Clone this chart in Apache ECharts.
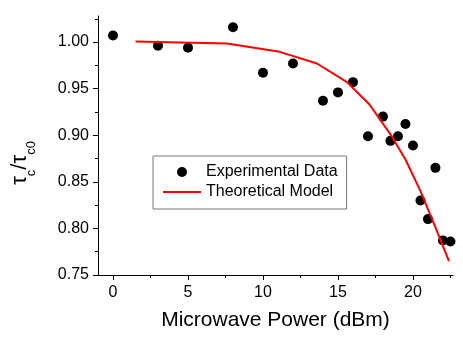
<!DOCTYPE html>
<html lang="en">
<head>
    <meta charset="UTF-8">
    <title>Relaxation time vs microwave power</title>
    <script src="https://cdn.jsdelivr.net/npm/echarts@6/dist/echarts.min.js"></script>
    <style>
        html, body { margin: 0; padding: 0; background: #fff; }
    </style>
</head>
<body>
<div id="main" style="width: 463px;height:343px;"></div>
<script>
    // measured points (dBm, tau_c / tau_c0)
    var powerMeasured = [0, 3, 5, 8, 10, 12, 14, 15, 16, 17, 18, 18.5, 19, 19.5, 20, 20.5, 21, 21.5, 22, 22.5];
    var ratioMeasured = [1.007, 0.996, 0.994, 1.016, 0.967, 0.977, 0.937, 0.946, 0.957, 0.899,
        0.920, 0.894, 0.899, 0.912, 0.889, 0.830, 0.810, 0.865, 0.787, 0.786];

    // model curve
    var powerModel = [1.5, 7.6, 11, 13.6, 15.6, 17.1, 18.5, 19.5, 20.5, 21.5, 22.4];
    var ratioModel = [1.0005, 0.9985, 0.990, 0.977, 0.957, 0.933, 0.901, 0.874, 0.840, 0.801, 0.765];

    var xMajor = [0, 5, 10, 15, 20];
    var xMinor = [2.5, 7.5, 12.5, 17.5, 22.5];
    var yMajor = [0.75, 0.80, 0.85, 0.90, 0.95, 1.00];
    var yMinor = [0.775, 0.825, 0.875, 0.925, 0.975, 1.025];

    var font = '"Liberation Sans", Arial, sans-serif';
    var xRange = [-1, 22.67];
    var yRange = [0.75, 1.028];

    var myChart = echarts.init(document.getElementById('main'));

    function zip(a, b) {
        return a.map(function (v, i) { return [v, b[i]]; });
    }

    var axisLine = {show: true, onZero: false, lineStyle: {color: '#000', width: 1}};
    // minor tick axes: no line, just short ticks
    var noLine = {show: false, onZero: false};

    myChart.setOption({
        animation: false,
        backgroundColor: '#fff',
        grid: {left: 98, right: 10, top: 16, bottom: 68},
        legend: {
            orient: 'vertical',
            left: 153,
            top: 156,
            padding: [7, 9, 8, 9],
            itemWidth: 38,
            itemHeight: 10,
            itemGap: 2,
            borderColor: '#777',
            borderWidth: 1,
            backgroundColor: '#fff',
            textStyle: {color: '#000', fontSize: 16, fontFamily: font, lineHeight: 18},
            data: [
                'Experimental Data',
                // line only, no marker in the key
                {name: 'Theoretical Model', itemStyle: {opacity: 0}}
            ]
        },
        xAxis: [
            {
                type: 'value',
                position: 'bottom',
                min: xRange[0],
                max: xRange[1],
                axisLine: axisLine,
                splitLine: {show: false},
                axisTick: {show: true, length: 5, customValues: xMajor, lineStyle: {color: '#000'}},
                axisLabel: {
                    customValues: xMajor, margin: 10,
                    color: '#000', fontSize: 16, fontFamily: font
                },
                name: 'Microwave Power (dBm)',
                nameLocation: 'middle',
                nameGap: 35,
                nameTextStyle: {color: '#000', fontSize: 21, fontFamily: font}
            },
            {
                type: 'value',
                position: 'bottom',
                min: xRange[0],
                max: xRange[1],
                axisLine: noLine,
                splitLine: {show: false},
                axisTick: {show: true, length: 3, customValues: xMinor, lineStyle: {color: '#000'}},
                axisLabel: {show: false}
            }
        ],
        yAxis: [
            {
                type: 'value',
                position: 'left',
                min: yRange[0],
                max: yRange[1],
                axisLine: axisLine,
                splitLine: {show: false},
                axisTick: {show: true, length: 5, customValues: yMajor, lineStyle: {color: '#000'}},
                axisLabel: {
                    customValues: yMajor, margin: 9,
                    color: '#000', fontSize: 16, fontFamily: font,
                    formatter: function (v) { return v.toFixed(2); }
                }
            },
            {
                type: 'value',
                position: 'left',
                min: yRange[0],
                max: yRange[1],
                axisLine: noLine,
                splitLine: {show: false},
                axisTick: {show: true, length: 3, customValues: yMinor, lineStyle: {color: '#000'}},
                axisLabel: {show: false}
            }
        ],
        graphic: [{
            type: 'text',
            x: 23,
            y: 163,
            rotation: Math.PI / 2,
            style: {
                text: '{t|τ}{s|c}{t|/τ}{s|c0}',
                align: 'center',
                verticalAlign: 'middle',
                fill: '#000',
                rich: {
                    t: {fontSize: 22, fontFamily: font, lineHeight: 24, verticalAlign: 'top', fill: '#000'},
                    s: {fontSize: 13, fontFamily: font, lineHeight: 29, verticalAlign: 'bottom', fill: '#000'}
                }
            }
        }],
        series: [
            {
                name: 'Experimental Data',
                type: 'scatter',
                symbol: 'circle',
                symbolSize: 10,
                itemStyle: {color: '#000', opacity: 1},
                data: zip(powerMeasured, ratioMeasured)
            },
            {
                name: 'Theoretical Model',
                type: 'line',
                symbol: 'none',
                showSymbol: false,
                lineStyle: {color: '#f00', width: 2},
                itemStyle: {color: '#f00'},
                data: zip(powerModel, ratioModel)
            }
        ]
    });
</script>
</body>
</html>
